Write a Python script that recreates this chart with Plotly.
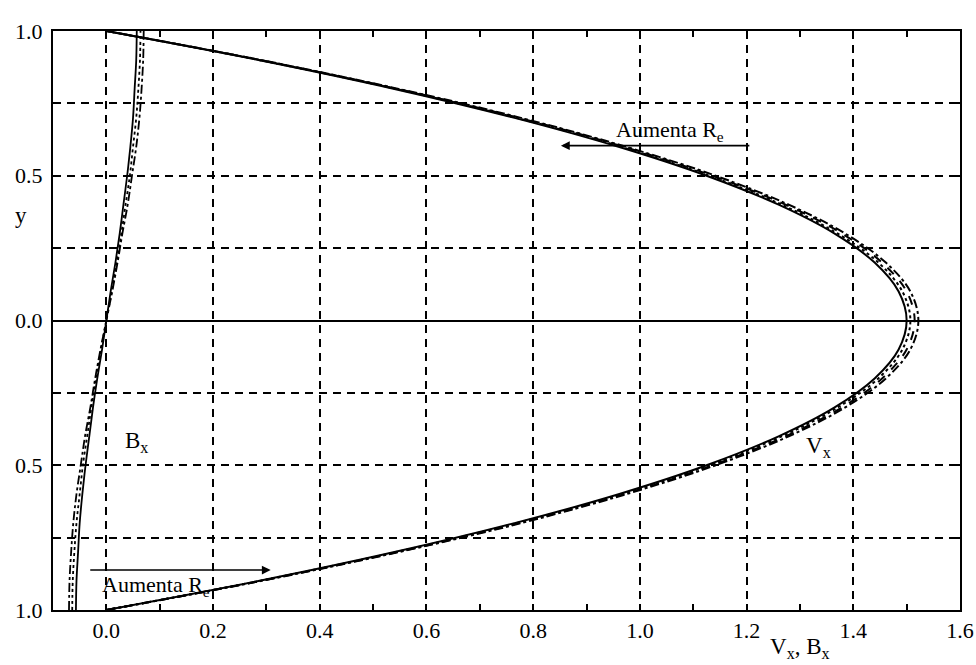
import plotly.graph_objects as go

# y coordinates (channel cross-section)
y_vals = [-1.0, -0.9, -0.8, -0.7, -0.6, -0.5, -0.4, -0.3, -0.2, -0.1, 0.0,
          0.1, 0.2, 0.3, 0.4, 0.5, 0.6, 0.7, 0.8, 0.9, 1.0]

# V_x profiles for increasing Re
vx_1 = [0.0, 0.285, 0.540, 0.765, 0.960, 1.125, 1.260, 1.365, 1.440, 1.485, 1.500,
        1.485, 1.440, 1.365, 1.260, 1.125, 0.960, 0.765, 0.540, 0.285, 0.0]
vx_2 = [0.0, 0.286, 0.543, 0.769, 0.965, 1.130, 1.266, 1.371, 1.447, 1.492, 1.507,
        1.492, 1.447, 1.371, 1.266, 1.130, 0.965, 0.769, 0.543, 0.286, 0.0]
vx_3 = [0.0, 0.288, 0.545, 0.773, 0.970, 1.136, 1.273, 1.379, 1.454, 1.500, 1.515,
        1.500, 1.454, 1.379, 1.273, 1.136, 0.970, 0.773, 0.545, 0.288, 0.0]
vx_4 = [0.0, 0.289, 0.548, 0.777, 0.974, 1.142, 1.279, 1.385, 1.461, 1.507, 1.522,
        1.507, 1.461, 1.385, 1.279, 1.142, 0.974, 0.777, 0.548, 0.289, 0.0]

# B_x profiles for increasing Re
bx_1 = [-0.057, -0.056, -0.053, -0.050, -0.045, -0.039, -0.032, -0.025, -0.017, -0.008, 0.0,
        0.008, 0.017, 0.025, 0.032, 0.039, 0.045, 0.050, 0.053, 0.056, 0.057]
bx_2 = [-0.064, -0.063, -0.060, -0.056, -0.050, -0.044, -0.036, -0.028, -0.019, -0.010, 0.0,
        0.010, 0.019, 0.028, 0.036, 0.044, 0.050, 0.056, 0.060, 0.063, 0.064]
bx_3 = [-0.070, -0.069, -0.066, -0.062, -0.056, -0.048, -0.040, -0.030, -0.021, -0.011, 0.0,
        0.011, 0.021, 0.030, 0.040, 0.048, 0.056, 0.062, 0.066, 0.069, 0.070]

x_ticks = [0.0, 0.2, 0.4, 0.6, 0.8, 1.0, 1.2, 1.4, 1.6]
x_tick_text = ["0.0", "0.2", "0.4", "0.6", "0.8", "1.0", "1.2", "1.4", "1.6"]
y_ticks = [-1.0, -0.5, 0.0, 0.5, 1.0]
y_tick_text = ["1.0", "0.5", "0.0", "0.5", "1.0"]

FONT = "Liberation Serif"

fig = go.Figure()

v_styles = ["solid", "dot", "dash", "dashdot"]
for vals, dash in zip([vx_1, vx_2, vx_3, vx_4], v_styles):
    fig.add_trace(go.Scatter(x=vals, y=y_vals, mode="lines",
                             line=dict(color="black", width=2.0, dash=dash, shape="spline"),
                             showlegend=False, hoverinfo="skip"))

b_styles = ["solid", "dot", "dashdot"]
for vals, dash in zip([bx_1, bx_2, bx_3], b_styles):
    fig.add_trace(go.Scatter(x=vals, y=y_vals, mode="lines",
                             line=dict(color="black", width=1.8, dash=dash, shape="spline"),
                             showlegend=False, hoverinfo="skip"))

# page body margin is removed (post_script), so figure pixels == window pixels
W, H = 976, 665
L, R, T, B = 53, 16, 31, 55
pw = W - L - R
ph = H - T - B


def px(sx):
    return (sx - L) / pw


def py(sy):
    return 1 - (sy - T) / ph


# arrows ("Aumenta R_e")
fig.add_annotation(x=0.852, y=0.604, ax=1.208, ay=0.604, xref="x", yref="y",
                   axref="x", ayref="y", text="", showarrow=True,
                   arrowhead=2, arrowsize=1.1, arrowwidth=1.6, arrowcolor="black")
fig.add_annotation(x=0.308, y=-0.862, ax=-0.033, ay=-0.862, xref="x", yref="y",
                   axref="x", ayref="y", text="", showarrow=True,
                   arrowhead=2, arrowsize=1.1, arrowwidth=1.6, arrowcolor="black")

labels = [
    ("Aumenta R<sub>e</sub>", 670, 147, "bottom", 22),
    ("Aumenta R<sub>e</sub>", 156, 570, "top", 22),
    ("B<sub>x</sub>", 136, 442, "middle", 23),
    ("V<sub>x</sub>", 818, 447, "middle", 23),
    ("y", 21, 216, "middle", 23),
    ("V<sub>x</sub>, B<sub>x</sub>", 800, 648, "middle", 23),
]
for text, sx, sy, yanch, size in labels:
    fig.add_annotation(x=px(sx), y=py(sy), xref="paper", yref="paper",
                       xanchor="center", yanchor=yanch,
                       text=text, showarrow=False,
                       font=dict(family=FONT, size=size, color="black"))

fig.update_layout(
    width=W, height=H,
    margin=dict(l=L, r=R, t=T, b=B, autoexpand=False),
    paper_bgcolor="white", plot_bgcolor="white",
    font=dict(family=FONT, size=22, color="black"),
    xaxis=dict(range=[-0.1, 1.6], tickvals=x_ticks, ticktext=x_tick_text,
               showgrid=True, gridcolor="black", gridwidth=1.6, griddash="8px,6px",
               zeroline=False, showline=True, linecolor="black", linewidth=2,
               mirror="ticks", ticks="inside", ticklen=6, tickwidth=1.6, tickcolor="black",
               ticklabeloverflow="allow",
               minor=dict(dtick=0.1, tick0=0, ticks="inside", ticklen=6, tickwidth=1.6,
                          tickcolor="black", showgrid=False),
               tickfont=dict(family=FONT, size=22)),
    yaxis=dict(range=[-1.0, 1.0], tickvals=y_ticks, ticktext=y_tick_text,
               showgrid=True, gridcolor="black", gridwidth=1.6, griddash="8px,6px",
               zeroline=True, zerolinecolor="black", zerolinewidth=2,
               showline=True, linecolor="black", linewidth=2,
               mirror="ticks", ticks="inside", ticklen=6, tickwidth=1.6, tickcolor="black",
               ticklabelstandoff=4, ticklabeloverflow="allow",
               minor=dict(dtick=0.25, tick0=0, ticks="inside", ticklen=6, tickwidth=1.6,
                          tickcolor="black", showgrid=True, gridcolor="black",
                          gridwidth=1.6, griddash="8px,6px"),
               tickfont=dict(family=FONT, size=22)),
)

fig.write_html("out.html",
               config={"displayModeBar": False},
               post_script="document.body.style.margin='0';"
                           "document.body.style.overflow='hidden';")
